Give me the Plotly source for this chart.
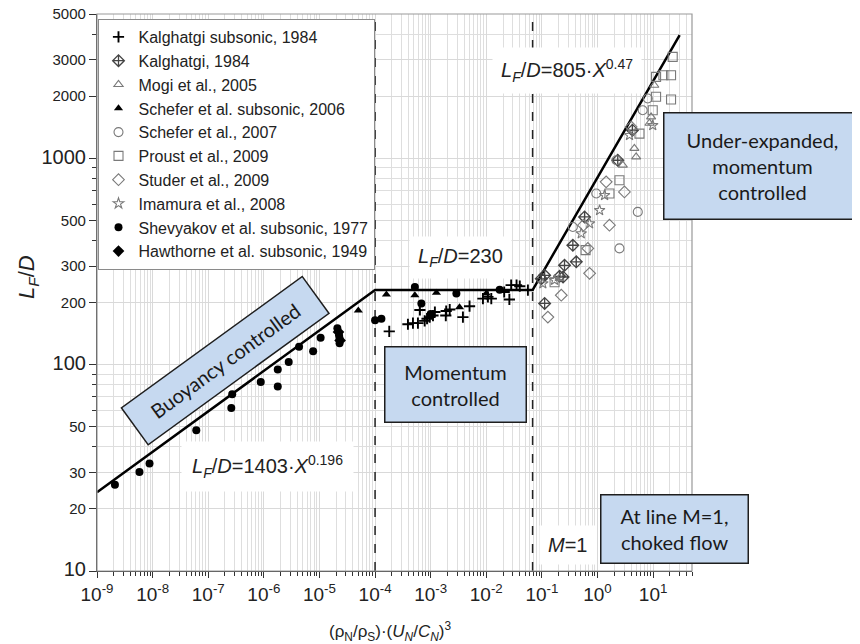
import plotly.graph_objects as go

# ---------------- data ----------------
kal_sub_x = [1.8e-4, 3.9e-4, 4.8e-4, 5.9e-4, 6.4e-4, 7.8e-4, 8.6e-4, 9.6e-4, 1.1e-3, 1.19e-3,
             1.87e-3, 1.9e-3, 2.2e-3, 3.8e-3, 5.0e-3, 8.7e-3, 1.07e-2, 1.23e-2, 0.021, 0.026,
             0.028, 0.035, 0.04, 0.056]
kal_sub_y = [145, 157, 159, 159, 184, 163, 167, 170, 173, 180,
             173, 182, 185, 170, 192, 209, 213, 209, 225, 207,
             243, 243, 240, 230]

kal_x = [0.112, 0.112, 0.208, 0.255, 0.415, 0.36, 0.585, 2.31, 0.0975, 4.25, 0.24]
kal_y = [198, 271, 268, 303, 315, 379, 520, 979, 261, 1368, 266]

mogi_x = [10.5, 9.2, 4.6, 4.95, 2.85, 8.6, 0.208]
mogi_y = [2260, 1589, 1117, 1016, 927, 1479, 262]

schefer_sub_x = [5e-5, 1.6e-4, 5.2e-4, 1.27e-3, 3.3e-3, 1.0e-2]
schefer_sub_y = [183, 219, 217, 223, 190, 221]

schefer_x = [5.3, 2.48, 6.5, 0.95, 0.36, 8.0, 2.19]
schefer_y = [550, 366, 1710, 675, 465, 1950, 979]

proust_x = [22.5, 21.0, 15.3, 11.3, 21.0, 9.84, 11.3, 5.68, 2.48, 1.64, 0.169, 0.61]
proust_y = [3101, 2529, 2529, 2483, 1928, 1710, 1987, 1318, 783, 675, 251, 359]

studer_x = [3.05, 1.64, 0.67, 0.223, 0.128, 0.72, 4.03, 1.43, 0.56]
studer_y = [687, 474, 366, 217, 170, 277, 1419, 769, 474]

imamura_x = [0.51, 1.09, 0.72, 0.169, 9.84, 0.104, 1.34, 3.76]
imamura_y = [432, 560, 483, 257, 1445, 247, 662, 1294]

shev_x = [2.1e-9, 5.8e-9, 8.8e-9, 6.1e-8, 2.6e-7, 2.7e-7, 8.8e-7, 1.78e-6, 1.78e-6, 2.8e-6,
          4.3e-6, 7.7e-6, 1.05e-5, 2.1e-5, 2.25e-5, 2.3e-5, 2.3e-5, 1.0e-4, 1.3e-4, 5.2e-4,
          6.8e-4, 1.0e-3, 2.9e-3, 1.74e-2]
shev_y = [26.2, 30.2, 33.2, 48.1, 61.7, 71.9, 82.4, 78.3, 94.7, 103,
          122, 116, 135, 150, 139, 134, 127, 164, 167, 238,
          198, 176, 221, 231]

hawthorne_x = [2.2e-5, 2.35e-5]
hawthorne_y = [144, 131]

# correlation line vertices (buoyancy / momentum / under-expanded)
fit_x = [1e-9, 1e-4, 0.068, 30]
fit_y = [24.1, 230, 230, 3960]

# regime boundaries (dashed)
bound_x = [1e-4, 0.068]
y_span = [10, 5000]

# tick labels
x_major = [10.0 ** e for e in range(-9, 2)]
x_major_text = ["10<sup>%d</sup>" % e for e in range(-9, 2)]
y_major = [10, 20, 30, 50, 100, 200, 300, 500, 1000, 2000, 3000, 5000]
y_major_text = ["<span style='font-size:20px'>10</span>", "20", "30", "50",
                "<span style='font-size:20px'>100</span>", "200", "300", "500",
                "<span style='font-size:20px'>1000</span>", "2000", "3000", "5000"]
y_minor = [40, 60, 70, 80, 90, 400, 600, 700, 800, 900, 4000]
x_minor = [m * 10.0 ** e for e in range(-9, 2) for m in range(2, 10) if m * 10.0 ** e <= 50]

# ---------------- figure ----------------
# the page body adds an 8 px offset; figure is sized so the plot area
# lands at page pixels x 97..692, y 14..571
OFF = 8
PL, PT, PW, PH = 97, 14, 595, 557          # plot area in page pixels
W, H = 860 - OFF, 644 - OFF
L, T = PL - OFF, PT - OFF
R, B = W - L - PW, H - T - PH


def px(xp):
    return (xp - PL) / PW


def py(yp):
    return (PT + PH - yp) / PH


fig = go.Figure()

grey = "#7a7a7a"

for bx in bound_x:
    fig.add_trace(go.Scatter(x=[bx, bx], y=y_span, mode="lines",
                             line=dict(color="#222", width=1.5, dash="dash"),
                             showlegend=False, hoverinfo="skip"))

fig.add_trace(go.Scatter(x=fit_x, y=fit_y, mode="lines",
                         line=dict(color="black", width=2.5),
                         showlegend=False, hoverinfo="skip"))

series = [
    ("Kalghatgi subsonic, 1984", kal_sub_x, kal_sub_y,
     dict(symbol="cross-thin-open", size=8, color="black", line=dict(color="black", width=1.9))),
    ("Kalghatgi, 1984", kal_x, kal_y,
     dict(symbol="diamond-cross-open", size=9, color="#444", line=dict(color="#444", width=1.3))),
    ("Mogi et al., 2005", mogi_x, mogi_y,
     dict(symbol="triangle-up-open", size=8, color=grey, line=dict(color=grey, width=1.1))),
    ("Schefer et al. subsonic, 2006", schefer_sub_x, schefer_sub_y,
     dict(symbol="triangle-up", size=8, color="black")),
    ("Schefer et al., 2007", schefer_x, schefer_y,
     dict(symbol="circle-open", size=9, color=grey, line=dict(color=grey, width=1.1))),
    ("Proust et al., 2009", proust_x, proust_y,
     dict(symbol="square-open", size=9, color=grey, line=dict(color=grey, width=1.1))),
    ("Studer et al., 2009", studer_x, studer_y,
     dict(symbol="diamond-open", size=9, color=grey, line=dict(color=grey, width=1.1))),
    ("Imamura et al., 2008", imamura_x, imamura_y,
     dict(symbol="star-open", size=8, color=grey, line=dict(color=grey, width=1.1))),
    ("Shevyakov et al. subsonic, 1977", shev_x, shev_y,
     dict(symbol="circle", size=8, color="black")),
    ("Hawthorne et al. subsonic, 1949", hawthorne_x, hawthorne_y,
     dict(symbol="diamond", size=9, color="black")),
]
for name, xs, ys, mk in series:
    fig.add_trace(go.Scatter(x=xs, y=ys, mode="markers", name=name, marker=mk,
                             cliponaxis=True))

axis_font = dict(family="Liberation Sans, Arial, sans-serif", color="#222")

fig.update_xaxes(
    type="log", range=[-9, 1.699], tickmode="array", tickvals=x_major, ticktext=x_major_text,
    tickfont=dict(size=19, **axis_font), ticks="outside", ticklen=6, tickcolor="#333",
    showline=True, linecolor="#333", linewidth=1.2, showgrid=True, gridcolor="#d9d9d9",
    gridwidth=1, zeroline=False, automargin=False, ticklabeloverflow="allow",
    minor=dict(tickmode="array", tickvals=x_minor, ticks="outside", ticklen=4,
               tickcolor="#333", showgrid=True, gridcolor="#dedede", gridwidth=1),
)
fig.update_yaxes(
    type="log", range=[1, 3.6995], tickmode="array", tickvals=y_major, ticktext=y_major_text,
    tickfont=dict(size=15, **axis_font), ticks="outside", ticklen=7, tickcolor="#333",
    showline=True, linecolor="#333", linewidth=1.2, showgrid=True, gridcolor="#d9d9d9",
    gridwidth=1, zeroline=False, automargin=False, ticklabeloverflow="allow",
    minor=dict(tickmode="array", tickvals=y_minor, ticks="outside", ticklen=4,
               tickcolor="#333", showgrid=True, gridcolor="#dedede", gridwidth=1),
)

box_font = dict(family="Lato, Calibri, sans-serif", size=20, color="#1a1a1a")
eq_font = dict(family="Liberation Sans, Arial, sans-serif", size=20, color="#222")
box_bg = "#c6d9f0"
box_line = "#1e1e1e"


def ann(xp, yp, text, **kw):
    d = dict(x=px(xp), y=py(yp), xref="paper", yref="paper", showarrow=False,
             xanchor="center", yanchor="middle", text=text)
    d.update(kw)
    return d


annotations = [
    # axis titles
    ann(28, 277, "<i>L<sub>F</sub></i>/<i>D</i>", textangle=-90,
        font=dict(size=22, **axis_font)),
    ann(390, 631, "(ρ<sub>N</sub>/ρ<sub>S</sub>)·(<i>U<sub>N</sub></i>/<i>C<sub>N</sub></i>)<sup>3</sup>",
        font=dict(size=17, **axis_font)),
    # equations on white background
    ann(267, 466, "<i>L<sub>F</sub></i>/<i>D</i>=1403·<i>X</i><sup>0.196</sup>",
        font=eq_font, bgcolor="white", borderpad=10),
    ann(460, 257, "<i>L<sub>F</sub></i>/<i>D</i>=230", font=eq_font, bgcolor="white", borderpad=8),
    ann(567, 70, "<i>L<sub>F</sub></i>/<i>D</i>=805·<i>X</i><sup>0.47</sup>", font=eq_font,
        bgcolor="white", borderpad=8),
    ann(567, 545, "<i>M</i>=1", font=eq_font, bgcolor="white", borderpad=8),
    # regime boxes
    ann(762, 166, "Under-expanded,<br>momentum<br>controlled", font=box_font,
        bgcolor=box_bg, bordercolor=box_line, borderwidth=1.5, borderpad=0,
        width=196, height=105),
    ann(455, 384, "Momentum<br>controlled", font=box_font,
        bgcolor=box_bg, bordercolor=box_line, borderwidth=1.5, borderpad=0,
        width=140, height=74),
    ann(674.5, 529, "At line M=1,<br>choked flow", font=box_font,
        bgcolor=box_bg, bordercolor=box_line, borderwidth=1.5, borderpad=0,
        width=146, height=67),
    ann(225.5, 361, "Buoyancy controlled", font=box_font, textangle=-36,
        bgcolor=box_bg, bordercolor=box_line, borderwidth=1.5, borderpad=0,
        width=222, height=44),
]

fig.update_layout(
    width=W, height=H, autosize=False,
    margin=dict(l=L, r=R, t=T, b=B, autoexpand=False),
    paper_bgcolor="white", plot_bgcolor="white",
    font=dict(family="Liberation Sans, Arial, sans-serif", color="#222"),
    showlegend=True,
    legend=dict(x=px(97.5), y=py(19), xanchor="left", yanchor="top",
                bgcolor="white", bordercolor="#8a8a8a", borderwidth=1,
                font=dict(size=16, family="Liberation Sans, Arial, sans-serif", color="#222")),
    annotations=annotations,
    shapes=[dict(type="rect", xref="paper", yref="paper", x0=0, x1=1, y0=0, y1=1,
                 line=dict(color="#999", width=1.2), layer="above")],
)

fig.write_html("out.html")
